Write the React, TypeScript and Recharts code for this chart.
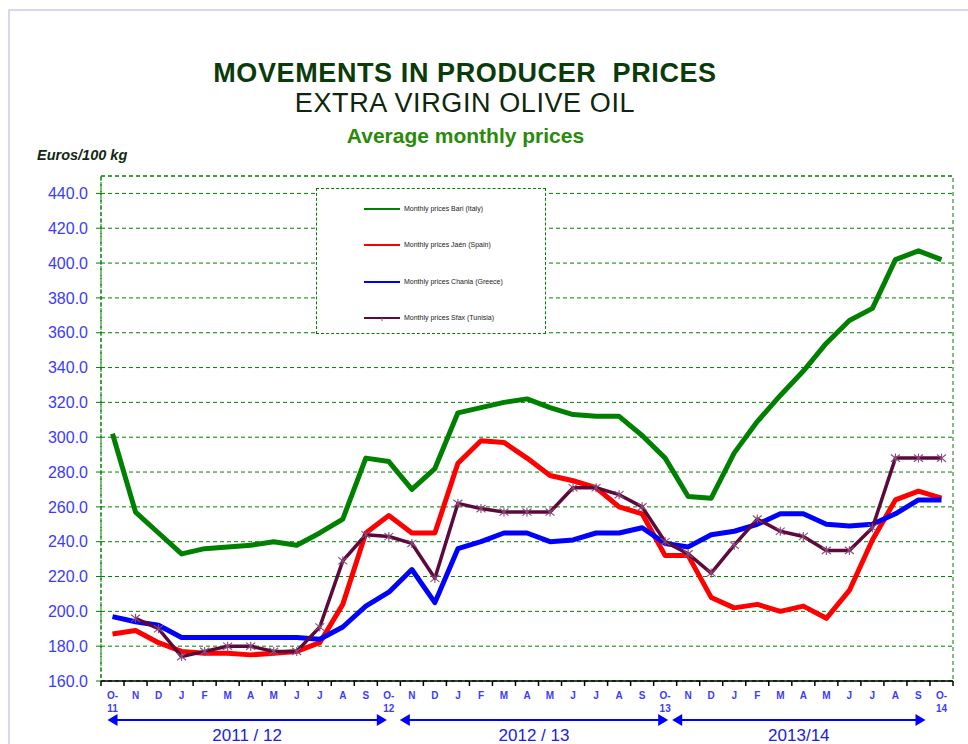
import { CartesianGrid, Legend, Line, LineChart, ReferenceArea, XAxis, YAxis } from "recharts"

const months = [
  "O-11", "N", "D", "J", "F", "M", "A", "M", "J", "J", "A", "S",
  "O-12", "N", "D", "J", "F", "M", "A", "M", "J", "J", "A", "S",
  "O-13", "N", "D", "J", "F", "M", "A", "M", "J", "J", "A", "S",
  "O-14",
]

const bari = [
  302, 257, 245, 233, 236, 237, 238, 240, 238, 245, 253, 288,
  286, 270, 282, 314, 317, 320, 322, 317, 313, 312, 312, 301,
  288, 266, 265, 291, 309, 324, 338, 354, 367, 374, 402, 407,
  402,
]

const jaen = [
  187, 189, 182, 177, 176, 176, 175, 176, 177, 182, 204, 245,
  255, 245, 245, 285, 298, 297, 288, 278, 275, 271, 260, 256,
  232, 232, 208, 202, 204, 200, 203, 196, 212, 241, 264, 269,
  265,
]

const chania = [
  197, 194, 192, 185, 185, 185, 185, 185, 185, 184, 191, 203,
  211, 224, 205, 236, 240, 245, 245, 240, 241, 245, 245, 248,
  239, 237, 244, 246, 250, 256, 256, 250, 249, 250, 256, 264,
  264,
]

const sfax = [
  null, 196, 190, 174, 177, 180, 180, 177, 177, 191, 229, 244,
  243, 239, 219, 262, 259, 257, 257, 257, 271, 271, 267, 260,
  240, 233, 222, 238, 253, 246, 243, 235, 235, 248, 288, 288,
  288,
]

const yTicks = [160, 180, 200, 220, 240, 260, 280, 300, 320, 340, 360, 380, 400, 420, 440]
const seasons = ["2011 / 12", "2012 / 13", "2013/14"]

const seriesKeys = ["bari", "jaen", "chania", "sfax"]
const seriesNames = [
  "Monthly prices Bari (Italy)",
  "Monthly prices Jaén (Spain)",
  "Monthly prices Chania (Greece)",
  "Monthly prices Sfax (Tunisia)",
]
const seriesColors = ["#008000", "#ff0000", "#0000ff", "#5c0a3a"]

const rows = months.map((m, i) => ({
  i,
  month: m,
  bari: bari[i],
  jaen: jaen[i],
  chania: chania[i],
  sfax: sfax[i],
}))

const FONT = "'Liberation Sans', Arial, sans-serif"
const PLOT_L = 101
const PLOT_R = 953
const BW = (PLOT_R - PLOT_L) / months.length
const xOf = (i: number) => PLOT_L + (i + 0.5) * BW
const TICK_BLUE = "#3b3bff"

function MonthTick(props: any) {
  const { x, y, payload } = props
  const idx = payload.value as number
  const label = months[idx] ?? ""
  const axisY = y - 7
  const left = x - BW / 2
  const parts = label.startsWith("O-") ? ["O-", label.slice(2)] : [label]
  return (
    <g>
      <line x1={left} x2={left} y1={axisY} y2={axisY + 5} stroke="#000" strokeWidth={1.5} />
      {idx === months.length - 1 && (
        <line x1={x + BW / 2} x2={x + BW / 2} y1={axisY} y2={axisY + 5} stroke="#000" strokeWidth={1.5} />
      )}
      {parts.map((p, k) => (
        <text
          key={k}
          x={x}
          y={y + 11 + k * 13}
          textAnchor="middle"
          fontSize={10}
          fontWeight="bold"
          fontFamily={FONT}
          fill={TICK_BLUE}
        >
          {p}
        </text>
      ))}
    </g>
  )
}

function Asterisk(props: any) {
  const { cx, cy, index } = props
  if (cx == null || cy == null || props.value == null) return <g key={`s-${index}`} />
  const r = 4.5
  return (
    <g key={`s-${index}`} stroke="#8a4a7c" strokeWidth={1.1}>
      <line x1={cx} x2={cx} y1={cy - r} y2={cy + r} />
      <line x1={cx - r} x2={cx + r} y1={cy - r * 0.8} y2={cy + r * 0.8} />
      <line x1={cx - r} x2={cx + r} y1={cy + r * 0.8} y2={cy - r * 0.8} />
    </g>
  )
}

function LegendBox() {
  return (
    <div
      style={{
        width: 230,
        height: 146,
        boxSizing: "border-box",
        border: "1px dashed #008000",
        background: "#fff",
        position: "relative",
        fontFamily: FONT,
      }}
    >
      {seriesKeys.map((key, k) => (
        <div key={key} style={{ position: "absolute", left: 0, top: 20 + k * 36.3 - 5, height: 10, width: 230 }}>
          <svg width={40} height={10} style={{ position: "absolute", left: 47, top: 0 }}>
            <line x1={0} x2={36} y1={5} y2={5} stroke={seriesColors[k]} strokeWidth={2} />
            {key === "sfax" && <line x1={18} x2={18} y1={5} y2={8} stroke="#8a4a7c" strokeWidth={1} />}
          </svg>
          <span
            style={{
              position: "absolute",
              left: 87,
              top: 1,
              fontSize: 7,
              lineHeight: "8px",
              color: "#222",
              whiteSpace: "nowrap",
            }}
          >
            {seriesNames[k]}
          </span>
        </div>
      ))}
    </div>
  )
}

export default function App() {
  return (
    <div
      style={{
        position: "absolute",
        left: 0,
        top: 0,
        width: 968,
        height: 744,
        background: "#fff",
        overflow: "hidden",
        fontFamily: FONT,
      }}
    >
      <div
        style={{
          position: "absolute",
          left: 8,
          top: 9,
          right: -4,
          bottom: -4,
          borderLeft: "2px solid #d6d9ec",
          borderTop: "2px solid #d6d9ec",
        }}
      />
      <div
        style={{
          position: "absolute",
          left: 0,
          width: 930,
          top: 60,
          textAlign: "center",
          fontSize: 27,
          lineHeight: "27px",
          fontWeight: "bold",
          letterSpacing: 0.6,
          whiteSpace: "pre",
          color: "#0b3a0b",
        }}
      >
        {"MOVEMENTS IN PRODUCER  PRICES"}
      </div>
      <div
        style={{
          position: "absolute",
          left: 0,
          width: 930,
          top: 90,
          textAlign: "center",
          fontSize: 27,
          lineHeight: "27px",
          letterSpacing: 0.6,
          color: "#0d260d",
        }}
      >
        EXTRA VIRGIN OLIVE OIL
      </div>
      <div
        style={{
          position: "absolute",
          left: 0,
          width: 931,
          top: 125,
          textAlign: "center",
          fontSize: 21,
          lineHeight: "21px",
          fontWeight: "bold",
          color: "#2a8a0a",
        }}
      >
        Average monthly prices
      </div>
      <div
        style={{
          position: "absolute",
          left: 37,
          top: 148,
          fontSize: 14.5,
          lineHeight: "15px",
          fontWeight: "bold",
          fontStyle: "italic",
          color: "#142814",
        }}
      >
        Euros/100 kg
      </div>

      <div style={{ position: "absolute", left: 0, top: 0 }}>
        <LineChart
          width={968}
          height={744}
          data={rows}
          margin={{ top: 176, right: 968 - PLOT_R, bottom: 33, left: PLOT_L - 60 }}
        >
          <CartesianGrid vertical={false} stroke="#008000" strokeDasharray="4 3" />
          <ReferenceArea
            x1={-0.5}
            x2={36.5}
            y1={160}
            y2={450}
            fill="none"
            stroke="#008000"
            strokeDasharray="4 3"
            ifOverflow="visible"
          />
          <XAxis
            type="number"
            dataKey="i"
            domain={[-0.5, 36.5]}
            ticks={months.map((_, i) => i)}
            interval={0}
            height={30}
            tickSize={5}
            tickMargin={2}
            tickLine={false}
            axisLine={{ stroke: "#000", strokeWidth: 1.5 }}
            tick={(p: any) => <MonthTick {...p} />}
          />
          <YAxis
            type="number"
            domain={[160, 450]}
            ticks={yTicks}
            interval={0}
            width={60}
            tickSize={5}
            tickMargin={8}
            tickFormatter={(v: number) => v.toFixed(1)}
            tick={{ fill: TICK_BLUE, fontSize: 16, fontFamily: FONT }}
            axisLine={{ stroke: "#008000", strokeDasharray: "4 2" }}
            tickLine={{ stroke: "#008000" }}
          />
          <Legend
            layout="horizontal"
            verticalAlign="middle"
            align="center"
            wrapperStyle={{ left: 316, top: 188, width: 230, height: 146 }}
            content={() => <LegendBox />}
          />
          {seriesKeys.map((key, k) => (
            <Line
              key={key}
              type="linear"
              dataKey={key}
              name={seriesNames[k]}
              stroke={seriesColors[k]}
              strokeWidth={key === "sfax" ? 3.5 : 5}
              strokeLinejoin="round"
              dot={key === "sfax" ? (p: any) => <Asterisk key={`s-${p.index}`} {...p} /> : false}
              isAnimationActive={false}
            />
          ))}
        </LineChart>
      </div>

      <svg width={968} height={744} style={{ position: "absolute", left: 0, top: 0, pointerEvents: "none" }}>
        {seasons.map((s, k) => {
          const startOff = [-5, 11, 7][k]
          const endOff = [-2, 3, -16][k]
          const x1 = xOf(12 * k) + startOff
          const x2 = xOf(12 * k + 12) + endOff
          const y = 720
          return (
            <g key={s}>
              <line x1={x1 + 8} x2={x2 - 8} y1={y} y2={y} stroke="#0000ff" strokeWidth={2} />
              <polygon points={`${x1},${y} ${x1 + 10},${y - 6} ${x1 + 10},${y + 6}`} fill="#0000ff" />
              <polygon points={`${x2},${y} ${x2 - 10},${y - 6} ${x2 - 10},${y + 6}`} fill="#0000ff" />
              <text
                x={(x1 + x2) / 2}
                y={741}
                textAnchor="middle"
                fontSize={17}
                fontFamily={FONT}
                fill="#2020e0"
              >
                {s}
              </text>
            </g>
          )
        })}
      </svg>
    </div>
  )
}
